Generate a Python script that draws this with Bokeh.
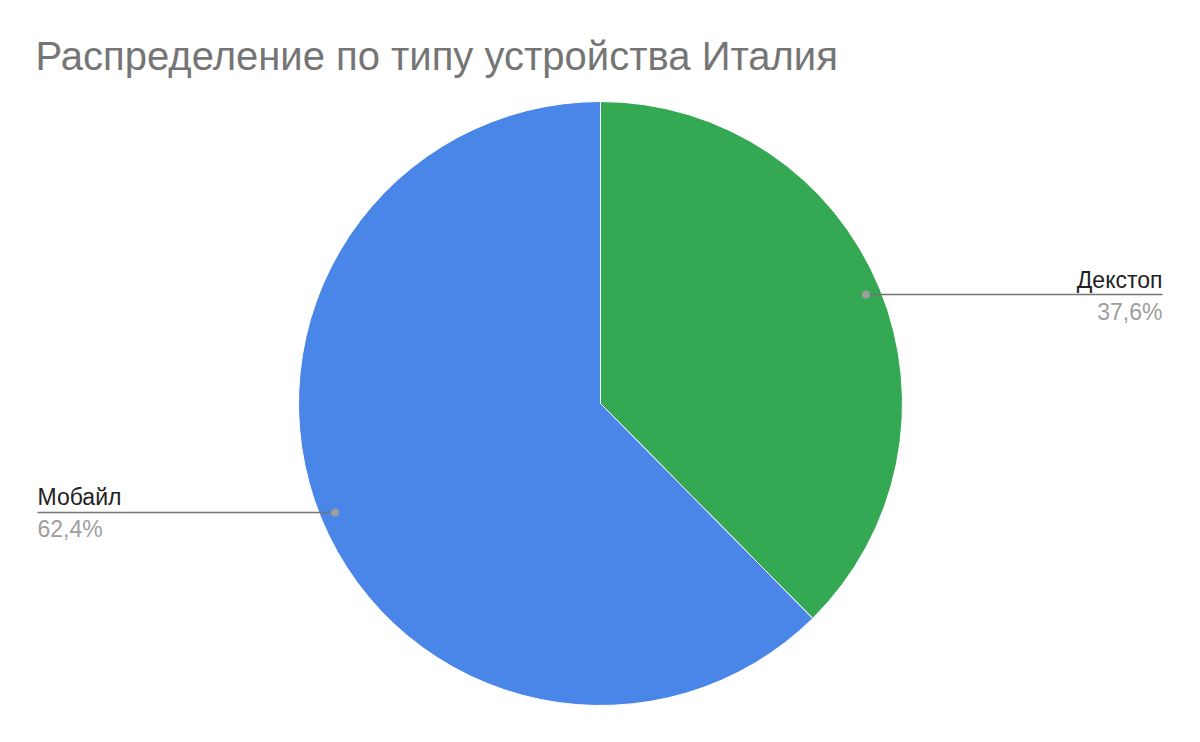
import numpy as np
from bokeh.plotting import figure
from bokeh.models import Range1d, ColumnDataSource, Label
from bokeh.core.properties import value
from bokeh.embed import file_html
from bokeh.resources import INLINE

title = "Распределение по типу устройства Италия"
categories = ["Декстоп", "Мобайл"]
shares = [37.6, 62.4]
pct_labels = ["37,6%", "62,4%"]
colors = ["#34A853", "#4A86E8"]

W, H = 1184, 726
cx, cy, R = 600, 323, 302
FONT = "Liberation Sans"

p = figure(width=W, height=H, output_backend="svg", toolbar_location=None,
           x_range=Range1d(0, W), y_range=Range1d(0, H),
           x_axis_type=None, y_axis_type=None, min_border=0)
p.grid.visible = False
p.outline_line_color = None
p.background_fill_color = "white"

fr = np.array(shares) / sum(shares)
ends = 90 - np.cumsum(fr) * 360
starts = np.concatenate([[90], ends[:-1]])
mids = (starts + ends) / 2

src = ColumnDataSource(dict(start=np.radians(starts), end=np.radians(ends), color=colors))
p.wedge(x=cx, y=cy, radius=R, start_angle="start", end_angle="end", direction="clock",
        fill_color="color", line_color="white", line_width=1, source=src)

dx = cx + 0.95 * R * np.cos(np.radians(mids))
dy = cy + 0.95 * R * np.sin(np.radians(mids))
right = dx > cx
lx = np.where(right, 1162, 37)
align = np.where(right, "right", "left")

for i in range(len(categories)):
    p.line([dx[i], lx[i]], [dy[i], dy[i]], line_color="#757575", line_width=1.5)
p.scatter(dx, dy, size=8, color="#9e9e9e", line_color=None)

lab = ColumnDataSource(dict(x=lx, y1=dy + 15, y2=dy - 17, t1=categories, t2=pct_labels, a=align))
p.text(x="x", y="y1", text="t1", text_align="a", text_baseline="middle",
       text_font=value(FONT), text_font_size="23px", text_color="#222222", source=lab)
p.text(x="x", y="y2", text="t2", text_align="a", text_baseline="middle",
       text_font=value(FONT), text_font_size="23px", text_color="#9e9e9e", source=lab)

p.add_layout(Label(x=35, y=H - 55, text=title, text_font=FONT, text_font_size="40px",
                   text_color="#757575", text_baseline="middle"))

open("out.html", "w").write(file_html(p, INLINE))
